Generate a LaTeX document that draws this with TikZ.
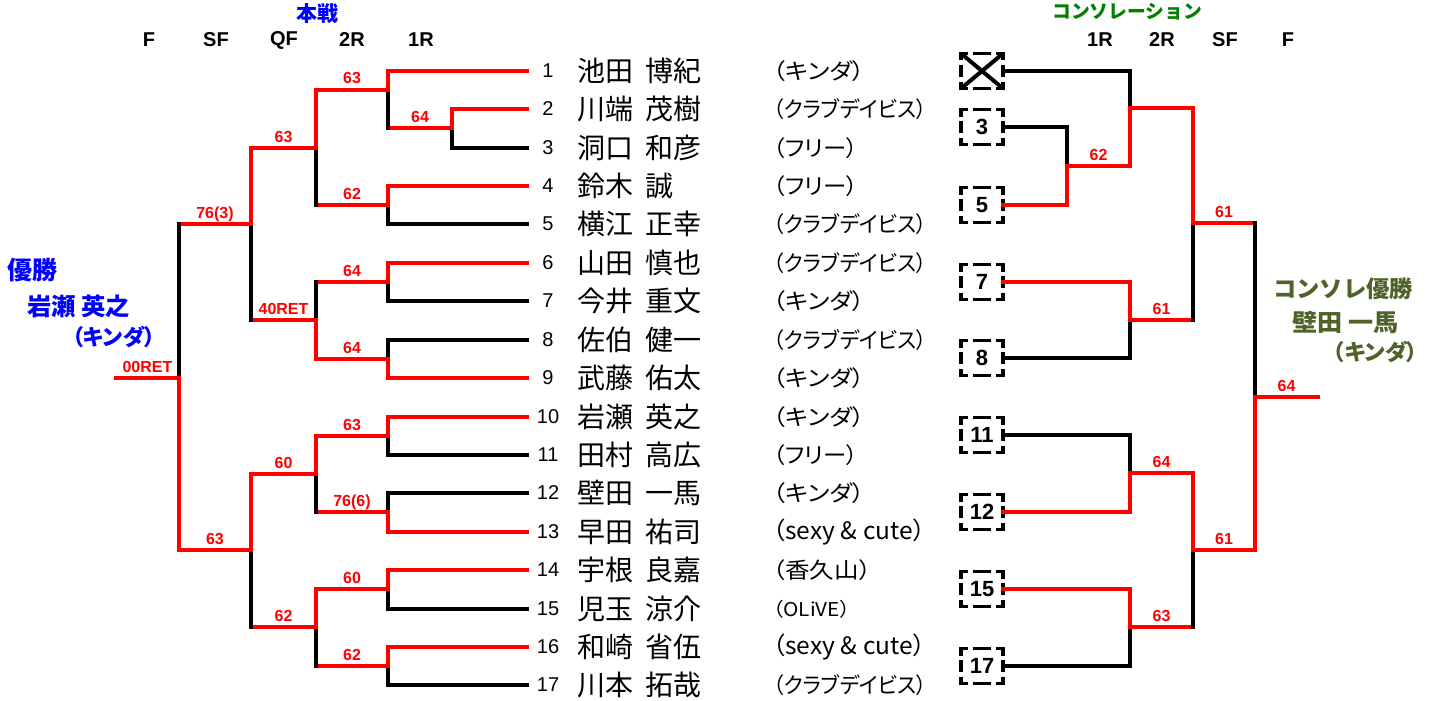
\documentclass[tikz,border=0pt]{standalone}
\usepackage{fontspec}
\usepackage{graphicx}
\setmainfont{Noto Sans CJK JP}
\newfontfamily\jp{Noto Sans CJK JP}
\newfontfamily\jpp{Noto Sans CJK JP}[RawFeature=+palt]
\newfontfamily\ar{Liberation Sans}
\definecolor{cgreen}{HTML}{008000}
\definecolor{colive}{HTML}{4F6228}
\newcommand\fs[1]{\fontsize{#1}{#1}\selectfont}
\newcommand\fw[2]{\resizebox{#1pt}{\height}{#2}}
% match: name, x of vertical, top entrant, bottom entrant, y out, x out end, score
\newcommand\mtT[7]{%
  \coordinate (#1v) at (#2,#5);
  \coordinate (#1) at (#6,#5);
  \draw[lose] (#4) -- (#4 -| #1v) -- (#1v);
  \draw[win] (#3) -- (#3 -| #1v) -- (#1v) -- (#1) node[score, midway, yshift=6pt] {#7};}
\newcommand\mtB[7]{%
  \coordinate (#1v) at (#2,#5);
  \coordinate (#1) at (#6,#5);
  \draw[lose] (#3) -- (#3 -| #1v) -- (#1v);
  \draw[win] (#4) -- (#4 -| #1v) -- (#1v) -- (#1) node[score, midway, yshift=6pt] {#7};}
\newcommand\dbox[4]{%
  \node[cbox] (#1) at (#2,#3) {#4};
  \draw[boxline] (#1.north) -- (#1.north east) -- (#1.south east) -- (#1.south west) -- (#1.north west) -- cycle;}
\begin{document}
\begin{tikzpicture}[x=1pt,y=-1pt,
  win/.style={draw=red, line width=4pt, line cap=rect},
  lose/.style={draw=black, line width=4pt, line cap=rect},
  score/.style={font=\ar\bfseries\fs{16}, text=red, inner sep=0pt, anchor=base},
  hdr/.style={font=\ar\bfseries\fs{20}, inner sep=0pt},
  num/.style={font=\ar\fs{20}, inner sep=0pt},
  nmn/.style={font=\jp\fs{28}, inner sep=0pt, anchor=west},
  aff/.style={inner sep=0pt, anchor=west},
  wl/.style={inner sep=0pt, anchor=west, text=blue},
  cwl/.style={inner sep=0pt, anchor=west, text=colive},
  cbox/.style={minimum width=42pt, minimum height=35pt, inner sep=0pt, outer sep=0pt, font=\ar\bfseries\fs{22}},
  boxline/.style={draw=black, line width=3.5pt, line join=miter,
    dash pattern=on 9pt off 5pt on 14pt off 4.5pt on 12pt off 4.5pt on 14pt off 5pt on 18pt off 5pt on 14pt off 4.5pt on 12pt off 4.5pt on 14pt off 5pt on 9pt off 0pt},
  ]
\useasboundingbox (0,0) rectangle (1432,701);

% headers
\node[font=\jp\bfseries\fs{21}, text=blue, inner sep=0pt] (honsen) at (317,14) {本戦};
\node[hdr] (hF) at (149,40) {F};
\node[hdr] (hSF) at (216,40) {SF};
\node[hdr] (hQF) at (284,40) {QF};
\node[hdr] (h2R) at (352,40) {2R};
\node[hdr] (h1R) at (421,40) {1R};
\node[font=\jp\bfseries\fs{19}, text=cgreen, inner sep=0pt, anchor=west] (hcons) at (1052,12) {\fw{150}{コンソレーション}};
\node[hdr] (c1R) at (1100,40) {1R};
\node[hdr] (c2R) at (1162,40) {2R};
\node[hdr] (cSF) at (1225,40) {SF};
\node[hdr] (cF) at (1288,40) {F};

% players
\foreach \i/\py/\pa/\pb/\pg/\pw/\ps in {
  1/71/池田/博紀/キンダ/92/22,
  2/109/川端/茂樹/クラブデイビス/154/22,
  3/148/洞口/和彦/フリー/85/22,
  4/186/鈴木/誠/フリー/85/22,
  5/224/横江/正幸/クラブデイビス/154/22,
  6/263/山田/慎也/クラブデイビス/154/22,
  7/301/今井/重文/キンダ/92/22,
  8/340/佐伯/健一/クラブデイビス/154/22,
  9/378/武藤/佑太/キンダ/92/22,
  10/417/岩瀬/英之/キンダ/92/22,
  11/455/田村/高広/フリー/85/22,
  12/493/壁田/一馬/キンダ/92/22,
  13/532/早田/祐司/sexy \& cute/152/24,
  14/570/宇根/良嘉/香久山/98/22,
  15/609/児玉/涼介/OLiVE/77/19,
  16/647/和崎/省伍/sexy \& cute/152/24,
  17/685/川本/拓哉/クラブデイビス/154/22}
{
  \node[num] (n\i) at (548,\py) {\i};
  \node[nmn] (p\i) at (577,\py) {\pa\hspace{12pt}\pb};
  \node[aff] (g\i) at (773,\py) {\jpp\fs{\ps}\fw{\pw}{（\pg）}};
  \coordinate (e\i) at (527,\py);
}

% main draw
\mtT{m23}{452}{e2}{e3}{128}{388}{64}
\mtT{m1}{388}{e1}{m23}{90}{316}{63}
\mtT{m45}{388}{e4}{e5}{205}{316}{62}
\mtT{m67}{388}{e6}{e7}{282}{316}{64}
\mtB{m89}{388}{e8}{e9}{359}{316}{64}
\mtT{m1011}{388}{e10}{e11}{436}{316}{63}
\mtB{m1213}{388}{e12}{e13}{512}{316}{76(6)}
\mtT{m1415}{388}{e14}{e15}{589}{316}{60}
\mtT{m1617}{388}{e16}{e17}{666}{316}{62}
\mtT{q1}{316}{m1}{m45}{148}{251}{63}
\mtB{q2}{316}{m67}{m89}{320}{251}{40RET}
\mtT{q3}{316}{m1011}{m1213}{474}{251}{60}
\mtT{q4}{316}{m1415}{m1617}{627}{251}{62}
\mtT{s1}{251}{q1}{q2}{224}{179}{76(3)}
\mtT{s2}{251}{q3}{q4}{550}{179}{63}
\mtB{fin}{179}{s1}{s2}{378}{116}{00RET}

% winner
\node[wl, font=\jp\bfseries\fs{25}] (w1) at (7,270) {\fw{50}{優勝}};
\node[wl, font=\jp\bfseries\fs{24}] (w2) at (27,306) {\fw{103}{岩瀬 英之}};
\node[wl, font=\jpp\bfseries\fs{22}] (w3) at (72,337) {\fw{83}{（キンダ）}};

% consolation boxes
\dbox{bx}{982}{71}{}
\draw[line width=4pt] (bx.north west) -- (bx.south east) (bx.north east) -- (bx.south west);
\dbox{b3}{982}{127}{3}
\dbox{b5}{982}{205}{5}
\dbox{b7}{982}{282}{7}
\dbox{b8}{982}{358}{8}
\dbox{b11}{982}{435}{11}
\dbox{b12}{982}{512}{12}
\dbox{b15}{982}{589}{15}
\dbox{b17}{982}{666}{17}

% consolation draw
\mtB{c35}{1067}{b3.east}{b5.east}{166}{1130}{62}
\mtB{cx}{1130}{bx.east}{c35}{108}{1193}{}
\mtT{c78}{1130}{b7.east}{b8.east}{320}{1193}{61}
\mtB{c1112}{1130}{b11.east}{b12.east}{473}{1193}{64}
\mtT{c1517}{1130}{b15.east}{b17.east}{627}{1193}{63}
\mtT{cs1}{1193}{cx}{c78}{223}{1255}{61}
\mtT{cs2}{1193}{c1112}{c1517}{550}{1255}{61}
\mtB{cf}{1255}{cs1}{cs2}{397}{1318}{64}

% consolation winner
\node[cwl, font=\jp\bfseries\fs{23}] (cw1) at (1273,289) {\fw{140}{コンソレ優勝}};
\node[cwl, font=\jp\bfseries\fs{24}] (cw2) at (1292,323) {\fw{106}{壁田 一馬}};
\node[cwl, font=\jpp\bfseries\fs{22}] (cw3) at (1333,352) {\fw{85}{（キンダ）}};
\end{tikzpicture}
\end{document}
